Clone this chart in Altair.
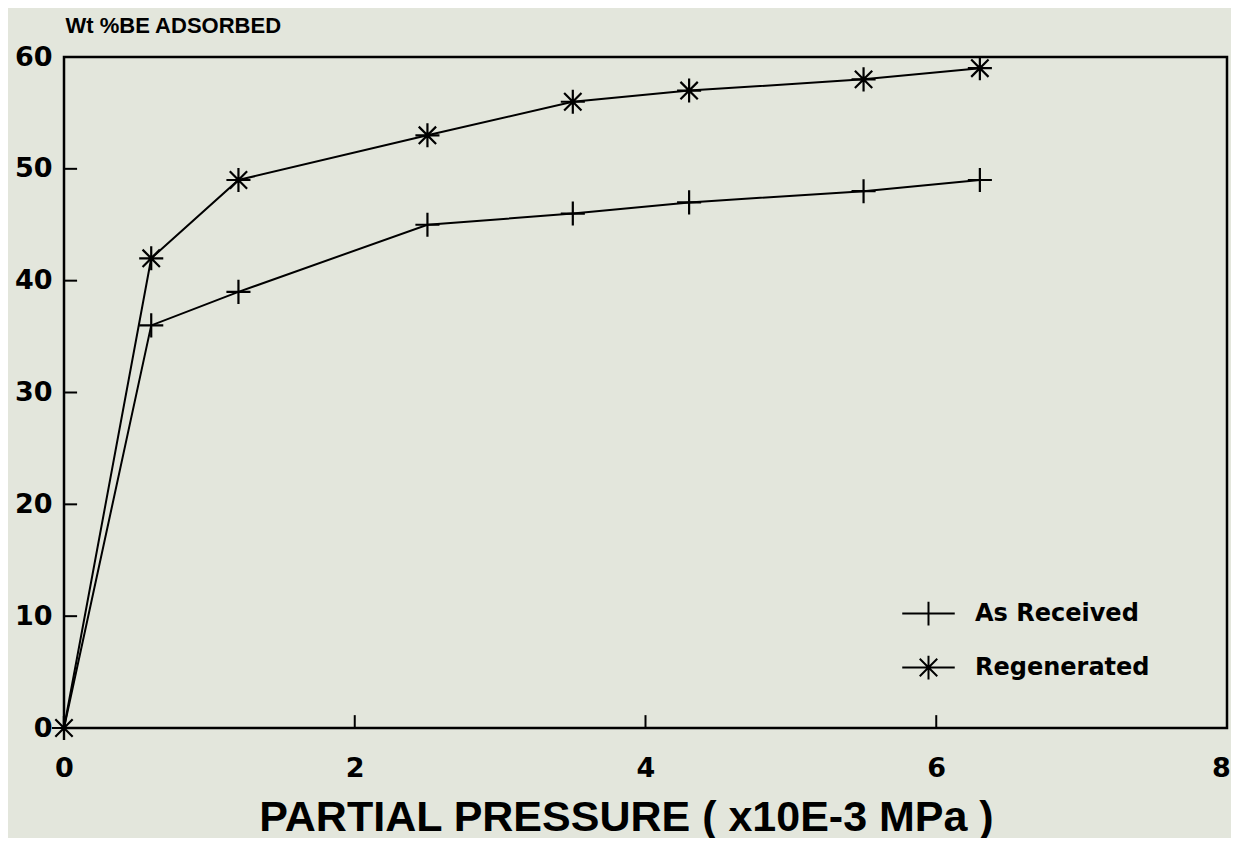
import altair as alt
import pandas as pd

# ---- data ----
pressure = [0, 0.6, 1.2, 2.5, 3.5, 4.3, 5.5, 6.3]
as_received = [0, 36, 39, 45, 46, 47, 48, 49]
regenerated = [0, 42, 49, 53, 56, 57, 58, 59]
series_names = ["As Received", "Regenerated"]

x_tick_values = [2, 4, 6]
y_tick_values = [10, 20, 30, 40, 50]
x_labels = [0, 2, 4, 6, 8]
y_labels = [0, 10, 20, 30, 40, 50, 60]

rows = []
for p, a, r in zip(pressure, as_received, regenerated):
    rows.append({"p": p, "w": a, "series": series_names[0], "order": p})
    rows.append({"p": p, "w": r, "series": series_names[1], "order": p})
df = pd.DataFrame(rows)

# inward tick marks (drawn as rules in data units)
x_tick_len = 1.15   # in y units
y_tick_len = 0.09   # in x units
xt = pd.DataFrame({"p": x_tick_values, "p2": x_tick_values,
                   "w": [0] * len(x_tick_values), "w2": [x_tick_len] * len(x_tick_values)})
yt = pd.DataFrame({"p": [0] * len(y_tick_values), "p2": [y_tick_len] * len(y_tick_values),
                   "w": y_tick_values, "w2": y_tick_values})

PLUS = "M-1,0L1,0M0,-1L0,1"
STAR = "M-1,0L1,0M0,-1L0,1M-0.72,-0.72L0.72,0.72M-0.72,0.72L0.72,-0.72"
PLUS_LEG = "M-2.1,0L2.1,0M0,-0.95L0,0.95"
STAR_LEG = "M-2.1,0L2.1,0M0,-0.95L0,0.95M-0.7,-0.7L0.7,0.7M-0.7,0.7L0.7,-0.7"

xscale = alt.Scale(domain=[0, 8], nice=False, zero=False)
yscale = alt.Scale(domain=[0, 60], nice=False, zero=False)

x_axis = alt.Axis(values=x_labels, format="d", tickSize=0, domain=False, grid=False,
                  labelFlush=False, labelOverlap=False,
                  labelOffset={"condition": {"test": "datum.value == 8", "value": -6}, "value": 0},
                  labelFont="DejaVu Sans", labelFontWeight="bold", labelFontSize=27,
                  labelColor="black", labelPadding=27, labelBaseline="top",
                  title="PARTIAL PRESSURE ( x10E-3 MPa )", titleFont="Liberation Sans",
                  titleFontWeight="bold", titleFontSize=43, titleColor="black",
                  titleX=562, titleY=102, titleBaseline="alphabetic", titleAlign="center")
y_axis = alt.Axis(values=y_labels, format="d", tickSize=0, domain=False, grid=False,
                  labelFlush=False, labelOverlap=False,
                  labelFont="DejaVu Sans", labelFontWeight="bold", labelFontSize=27,
                  labelColor="black", labelPadding=12,
                  title="Wt %BE ADSORBED", titleFont="Liberation Sans", titleFontWeight="bold",
                  titleFontSize=22, titleColor="black", titleAngle=0, titleAlign="left",
                  titleBaseline="alphabetic", titleX=1, titleY=-25)

base = alt.Chart(df)

lines = base.mark_line(color="black", strokeWidth=2).encode(
    x=alt.X("p:Q", scale=xscale, axis=x_axis),
    y=alt.Y("w:Q", scale=yscale, axis=y_axis),
    detail="series:N",
    order="order:Q",
)

points = base.mark_point(color="black", filled=False, strokeWidth=2.2, size=580, opacity=1).encode(
    x=alt.X("p:Q", scale=xscale),
    y=alt.Y("w:Q", scale=yscale),
    shape=alt.Shape("series:N", scale=alt.Scale(domain=series_names, range=[PLUS, STAR]), legend=None),
)

legend_layer = base.mark_point(color="black", filled=False, strokeWidth=2, opacity=0).encode(
    x=alt.X("p:Q", scale=xscale),
    y=alt.Y("w:Q", scale=yscale),
    shape=alt.Shape("series:N", scale=alt.Scale(domain=series_names, range=[PLUS_LEG, STAR_LEG]),
                    legend=alt.Legend(title=None, orient="none", legendX=851, legendY=543,
                                      symbolSize=625, symbolStrokeWidth=2, symbolStrokeColor="black",
                                      symbolFillColor="transparent", symbolOpacity=1,
                                      labelFont="DejaVu Sans", labelFontWeight="bold",
                                      labelFontSize=24, labelColor="black", labelOffset=33,
                                      labelLimit=400, rowPadding=21, padding=0)),
)

xticks = alt.Chart(xt).mark_rule(color="black", strokeWidth=2).encode(
    x=alt.X("p:Q", scale=xscale), x2="p2:Q",
    y=alt.Y("w:Q", scale=yscale), y2="w2:Q")
yticks = alt.Chart(yt).mark_rule(color="black", strokeWidth=2).encode(
    x=alt.X("p:Q", scale=xscale), x2="p2:Q",
    y=alt.Y("w:Q", scale=yscale), y2="w2:Q")

chart = alt.layer(lines, xticks, yticks, points, legend_layer).resolve_scale(
    shape="independent"
).properties(
    width=1163, height=671,
    autosize=alt.AutoSizeParams(type="none"),
    padding={"left": 56, "top": 49, "right": 4, "bottom": 110},
    background="#e3e6dc",
).configure_view(stroke="black", strokeWidth=2.5)

chart.save("out.html", embed_options={"renderer": "svg", "actions": False})
